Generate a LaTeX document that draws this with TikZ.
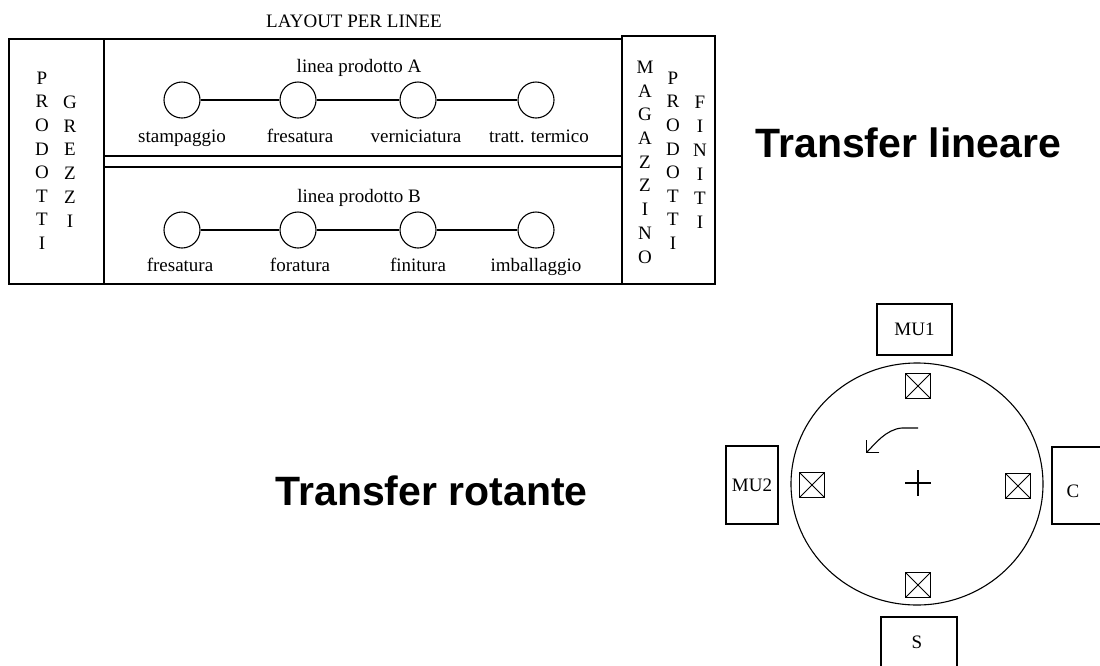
\documentclass[tikz,border=0pt]{standalone}
\usepackage{fontspec}
\setmainfont{Liberation Serif}
\newfontfamily\bigsans{Liberation Sans}
\usetikzlibrary{arrows.meta}
\begin{document}
\begin{tikzpicture}[x=1pt,y=-1pt,line width=1.1pt,
  lbl/.style={font=\fontsize{19}{19}\selectfont,inner sep=0pt},
  letter/.style={font=\fontsize{19}{19}\selectfont,inner sep=0pt},
  station/.style={circle,draw,minimum size=36pt,inner sep=0pt},
  big/.style={font=\bigsans\bfseries\fontsize{41}{41}\selectfont,inner sep=0pt,anchor=base west},
  unit/.style={draw,inner sep=0pt,font=\fontsize{19}{19}\selectfont},
  pallet/.style={draw,line width=1.6pt,minimum size=25pt,inner sep=0pt,
    path picture={\draw[line width=0.8pt] (path picture bounding box.north west) -- (path picture bounding box.south east)
      (path picture bounding box.north east) -- (path picture bounding box.south west);}}]
\path[use as bounding box,clip] (0,0) rectangle (1100,665);

% ---- layout per linee ----
\node[lbl,anchor=base] (title) at (354,27) {LAYOUT PER LINEE};
\draw (9,39) rectangle (104,284);
\draw (104,39) -- (622,39);
\draw (104,284) -- (622,284);
\draw (104,156) -- (622,156);
\draw (104,167) -- (622,167);
\draw (622,36) rectangle (715,284);

\foreach \ch [count=\i from 0] in {P,R,O,D,O,T,T,I}
  \node[letter] (pl\i) at (42,78+23.6*\i) {\ch};
\foreach \ch [count=\i from 0] in {G,R,E,Z,Z,I}
  \node[letter] (gz\i) at (70,102+23.8*\i) {\ch};
\foreach \ch [count=\i from 0] in {M,A,G,A,Z,Z,I,N,O}
  \node[letter] (mg\i) at (645,67+23.75*\i) {\ch};
\foreach \ch [count=\i from 0] in {P,R,O,D,O,T,T,I}
  \node[letter] (pr\i) at (673,78+23.6*\i) {\ch};
\foreach \ch [count=\i from 0] in {F,I,N,I,T,I}
  \node[letter] (fn\i) at (700,102+24*\i) {\ch};

\node[lbl,anchor=base] (lineaA) at (359,72) {linea prodotto A};
\node[station] (a1) at (182,100) {};
\node[station] (a2) at (298,100) {};
\node[station] (a3) at (418,100) {};
\node[station] (a4) at (536,100) {};
\draw (a1) -- (a2) -- (a3) -- (a4);
\node[lbl,anchor=base] (la1) at (182,142) {stampaggio};
\node[lbl,anchor=base] (la2) at (300,142) {fresatura};
\node[lbl,anchor=base] (la3) at (416,142) {verniciatura};
\node[lbl,anchor=base] (la4) at (539,142) {tratt. termico};

\node[lbl,anchor=base] (lineaB) at (359,202) {linea prodotto B};
\node[station] (b1) at (182,230) {};
\node[station] (b2) at (298,230) {};
\node[station] (b3) at (418,230) {};
\node[station] (b4) at (536,230) {};
\draw (b1) -- (b2) -- (b3) -- (b4);
\node[lbl,anchor=base] (lb1) at (180,271) {fresatura};
\node[lbl,anchor=base] (lb2) at (300,271) {foratura};
\node[lbl,anchor=base] (lb3) at (418,271) {finitura};
\node[lbl,anchor=base] (lb4) at (536,271) {imballaggio};

\node[big] (tlin) at (755,157) {Transfer lineare};
\node[big] (trot) at (275,505) {Transfer rotante};

% ---- transfer rotante ----
\draw (917,484) ellipse [x radius=126,y radius=121];
\node[unit,minimum width=75pt,minimum height=51pt] (mu1) at (914.5,329.5) {MU1};
\node[unit,minimum width=52pt,minimum height=78pt] (mu2) at (752,485) {MU2};
\draw (1052,447) rectangle (1112,524);
\node[lbl] (c) at (1073,491) {C};
\draw (881,617) rectangle (957,680);
\node[lbl] (s) at (917,642) {S};

\node[pallet] (p1) at (918,386) {};
\node[pallet] (p2) at (812,485) {};
\node[pallet] (p3) at (1018,486) {};
\node[pallet] (p4) at (918,585) {};

\coordinate (ctr) at (918,483);
\draw (905,483) -- (931,483) (918,470) -- (918,496);

\coordinate (arrS) at (918,428);
\coordinate (arrE) at (866,453);
\draw[-{Straight Barb[length=9pt,width=18pt]}] (arrS) -- (902,428) .. controls (886,429) and (874,445) .. (arrE);
\end{tikzpicture}
\end{document}
